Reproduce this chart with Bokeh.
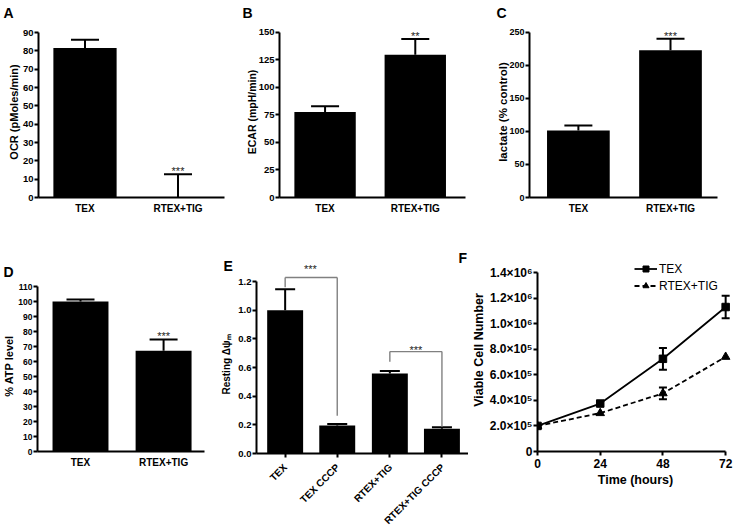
import math
from bokeh.plotting import figure
from bokeh.models import (Range1d, FixedTicker, Label, Whisker, TeeHead,
                          ColumnDataSource, Legend, LegendItem)
from bokeh.layouts import row, column
from bokeh.embed import file_html
from bokeh.resources import INLINE

FONT = "Liberation Sans"

# ---------------- data ----------------
A_groups = ["TEX", "RTEX+TIG"]
A_pos = [0.5, 1.5]
A_values = [81.6, 0.0]
A_errors = [4.4, 12.7]
A_yticks = [0, 10, 20, 30, 40, 50, 60, 70, 80, 90]
A_sig = "***"

B_groups = ["TEX", "RTEX+TIG"]
B_pos = [0.49, 1.46]
B_values = [77.7, 129.8]
B_errors = [5.2, 14.2]
B_yticks = [0, 25, 50, 75, 100, 125, 150]
B_sig = "**"

C_groups = ["TEX", "RTEX+TIG"]
C_pos = [0.52, 1.5]
C_values = [101.4, 222.9]
C_errors = [7.5, 17.5]
C_yticks = [0, 50, 100, 150, 200, 250]
C_sig = "***"

D_groups = ["TEX", "RTEX+TIG"]
D_pos = [0.515, 1.51]
D_values = [100.0, 67.1]
D_errors = [1.3, 7.6]
D_yticks = [0, 10, 20, 30, 40, 50, 60, 70, 80, 90, 100, 110]
D_sig = "***"

E_groups = ["TEX", "TEX CCCP", "RTEX+TIG", "RTEX+TIG CCCP"]
E_pos = [0.55, 1.55, 2.56, 3.56]
E_values = [1.00, 0.196, 0.559, 0.173]
E_errors = [0.146, 0.009, 0.017, 0.011]
E_yticks = [0, 0.2, 0.4, 0.6, 0.8, 1.0, 1.2]
E_ytick_labels = ["0.0", "0.2", "0.4", "0.6", "0.8", "1.0", "1.2"]
E_bracket_left = [0, 2]
E_bracket_right = [1, 3]
E_bracket_y = [1.228, 0.711]
E_bracket_left_end = [1.16, 0.64]
E_bracket_right_end = [0.263, 0.187]
E_sig = ["***", "***"]

F_time = [0, 24, 48, 72]
F_tex = [2.0e5, 3.75e5, 7.25e5, 1.13e6]
F_tex_err = [0, 0, 8.5e4, 8.8e4]
F_rtex = [2.0e5, 3.0e5, 4.55e5, 7.4e5]
F_rtex_err = [0, 0, 4.6e4, 0]
F_xticks = [0, 24, 48, 72]
F_yticks = [0, 200000, 400000, 600000, 800000, 1000000, 1200000, 1400000]
F_ytick_labels = ["0", "2.0×10⁵", "4.0×10⁵", "6.0×10⁵", "8.0×10⁵",
                  "1.0×10⁶", "1.2×10⁶", "1.4×10⁶"]
F_series = ["TEX", "RTEX+TIG"]

panel_letters = ["A", "B", "C", "D", "E", "F"]


# ---------------- helpers ----------------
def style_axis(ax):
    ax.axis_line_width = 2
    ax.axis_line_color = "black"
    ax.major_tick_line_width = 2
    ax.major_tick_line_color = "black"
    ax.major_tick_out = 4
    ax.major_tick_in = 0
    ax.minor_tick_line_color = None
    ax.major_label_text_font = FONT
    ax.major_label_text_font_style = "bold"
    ax.major_label_text_color = "black"
    ax.axis_label_text_font = FONT
    ax.axis_label_text_font_style = "bold"
    ax.axis_label_text_color = "black"


def base_fig(W, H, fl, fr, ft, fb, x0, x1, y0, y1):
    p = figure(width=W, height=H, x_range=Range1d(x0, x1), y_range=Range1d(y0, y1),
               output_backend="svg", toolbar_location=None, title=None,
               min_border_left=fl, min_border_right=W - fr,
               min_border_top=ft, min_border_bottom=H - fb)
    p.outline_line_color = None
    p.xgrid.visible = False
    p.ygrid.visible = False
    p.border_fill_color = "white"
    p.background_fill_color = "white"
    style_axis(p.xaxis[0])
    style_axis(p.yaxis[0])
    p.yaxis[0].major_label_standoff = 1
    return p


def strip(W, H, x0=None, x1=None):
    p = figure(width=W, height=H,
               x_range=Range1d(0 if x0 is None else x0, W if x1 is None else x1),
               y_range=Range1d(0, H), x_axis_location=None, y_axis_location=None,
               output_backend="svg", toolbar_location=None, title=None,
               min_border=0, min_border_left=0, min_border_right=0,
               min_border_top=0, min_border_bottom=0)
    p.outline_line_color = None
    p.grid.visible = False
    p.border_fill_color = "white"
    p.background_fill_color = "white"
    return p


def letter(p, txt, x, y):
    # y is the vertical centre of the capital letter, from the strip's bottom
    p.add_layout(Label(x=x, y=y, x_units="screen", y_units="screen", text=txt,
                       text_align="left", text_baseline="middle",
                       text_font=FONT, text_font_size="14px", text_font_style="bold",
                       text_color="black"))


def sig_label(p, x, y, txt, yoff=3, y_units="data"):
    p.add_layout(Label(x=x, y=y, y_offset=yoff, y_units=y_units, text=txt,
                       text_align="center", text_baseline="middle", text_font=FONT,
                       text_font_size="11px", text_color="#222222"))


def bar_panel(W, H, fl, fr, fb, axis_top_px, xmax, ymax, pos, values, errors, groups,
              yticks, ylabel, ylabel_size, ylabel_standoff, tick_size, bw,
              cap=28, ytick_labels=None, show_cats=True):
    ytop = ymax * fb / (fb - axis_top_px)
    p = base_fig(W, H, fl, fr, 0, fb, 0, xmax, 0, ytop)
    ya = p.yaxis[0]
    ya.bounds = (0, ymax)
    ya.ticker = FixedTicker(ticks=yticks)
    ya.major_label_text_font_size = f"{tick_size}px"
    if ytick_labels is not None:
        ya.major_label_overrides = {t: s for t, s in zip(yticks, ytick_labels)}
    ya.axis_label = ylabel
    ya.axis_label_text_font_size = f"{ylabel_size}px"
    ya.axis_label_standoff = ylabel_standoff
    xa = p.xaxis[0]
    xa.ticker = FixedTicker(ticks=pos)
    if show_cats:
        xa.major_label_overrides = {x: g for x, g in zip(pos, groups)}
        xa.major_tick_out = 0
        xa.major_tick_line_color = None
        xa.major_label_standoff = 5
        xa.major_label_text_font_size = "10px"
    else:
        xa.major_label_overrides = {x: "" for x in pos}
        xa.major_label_text_font_size = "0px"
        xa.major_label_standoff = 0
    src = ColumnDataSource(dict(x=pos, top=values,
                                up=[v + e for v, e in zip(values, errors)]))
    p.vbar(x="x", top="top", bottom=0, width=bw, source=src,
           fill_color="black", line_color=None)
    p.add_layout(Whisker(base="x", lower="top", upper="up", source=src,
                         dimension="height", line_width=2, line_color="black",
                         upper_head=TeeHead(size=cap, line_width=2, line_color="black"),
                         lower_head=None))
    return p


# ---------------- top strip with panel letters A, B, C ----------------
sTop = strip(733, 26)
letter(sTop, panel_letters[0], 3, 14)
letter(sTop, panel_letters[1], 242, 14)
letter(sTop, panel_letters[2], 496, 14)

H1 = 222
# ---------------- A ----------------
pA = bar_panel(240, H1, 38, 224, 171, 6, 2, 90, A_pos, A_values, A_errors, A_groups,
               A_yticks, "OCR (pMoles/min)", 11, 0, 9.5, 0.68)
sig_label(pA, A_pos[1], A_values[1] + A_errors[1], A_sig)

# ---------------- B ----------------
pB = bar_panel(240, H1, 39, 225, 172, 6, 2, 150, B_pos, B_values, B_errors, B_groups,
               B_yticks, "ECAR (mpH/min)", 10.5, -2, 9.5, 0.66)
sig_label(pB, B_pos[1], B_values[1] + B_errors[1], B_sig)

# ---------------- C ----------------
pC = bar_panel(253, H1, 49, 237, 172, 6, 2, 250, C_pos, C_values, C_errors, C_groups,
               C_yticks, "lactate (% control)", 11.5, -3, 9, 0.667)
sig_label(pC, C_pos[1], C_values[1] + C_errors[1], C_sig)

H2 = 278
# ---------------- D ----------------
sD = strip(218, 32)
letter(sD, panel_letters[3], 3, 9)
pD = bar_panel(218, H2 - 32, 37, 204, 171, 6, 2, 110, D_pos, D_values, D_errors, D_groups,
               D_yticks, "% ATP level", 11, 0, 8.5, 0.67)
sig_label(pD, D_pos[1], D_values[1] + D_errors[1], D_sig)

# ---------------- E ----------------
E_W, E_fl, E_fr, E_xmax = 250, 37, 250, 4.07
E_ppu = (E_fr - E_fl) / E_xmax
E_x0 = -E_fl / E_ppu
sE = strip(E_W, 27, E_x0, E_xmax)
letter(sE, panel_letters[4], 5, 9.5)
letter(sE, panel_letters[5], 240, 17.5)
pE = bar_panel(E_W, 184, E_fl, E_fr, 178, 6, E_xmax, 1.2, E_pos, E_values, E_errors,
               E_groups, E_yticks, "Resting Δψₘ", 10, 3, 9.5, 0.69, cap=20,
               ytick_labels=E_ytick_labels, show_cats=False)
bx0, by0, bx1, by1 = [], [], [], []
for li, ri, yb, yl, yr in zip(E_bracket_left, E_bracket_right, E_bracket_y,
                              E_bracket_left_end, E_bracket_right_end):
    xl, xr = E_pos[li], E_pos[ri]
    bx0 += [xl, xl, xr]
    by0 += [yl, yb, yb]
    bx1 += [xl, xr, xr]
    by1 += [yb, yb, yr]
pE.segment(bx0, by0, bx1, by1, line_color="#808080", line_width=1.4)
# first bracket's stars sit above the plot frame -> drawn in the strip above (same x scale)
sig_label(sE, (E_pos[E_bracket_left[0]] + E_pos[E_bracket_right[0]]) / 2, 6.3,
          E_sig[0], yoff=0, y_units="screen")
sig_label(pE, (E_pos[E_bracket_left[1]] + E_pos[E_bracket_right[1]]) / 2,
          E_bracket_y[1], E_sig[1], yoff=2)
# rotated category labels in a strip below, sharing E's x scale
E_lab_h = H2 - 27 - 184
sE2 = strip(E_W, E_lab_h, E_x0, E_xmax)
for x, g in zip(E_pos, E_groups):
    sE2.add_layout(Label(x=x, y=E_lab_h - 6, x_units="data", y_units="screen",
                         x_offset=1, text=g, angle=math.pi / 4, text_align="right",
                         text_baseline="middle", text_font=FONT, text_font_size="10px",
                         text_font_style="bold", text_color="black"))

# ---------------- F ----------------
F_W, F_fl, F_fb, F_axis_top = 265, 65, 203, 24
ppx = 192 / 72.0
fx1 = (F_W - F_fl) / ppx
fy1 = 1.4e6 * F_fb / (F_fb - F_axis_top)
pF = base_fig(F_W, H2, F_fl, F_W, 0, F_fb, 0, fx1, 0, fy1)
ya = pF.yaxis[0]
ya.bounds = (0, 1.4e6)
ya.ticker = FixedTicker(ticks=F_yticks)
ya.major_label_overrides = {t: s for t, s in zip(F_yticks, F_ytick_labels)}
ya.major_label_text_font_size = "12px"
ya.axis_label = "Viable Cell Number"
ya.axis_label_text_font_size = "12.5px"
ya.axis_label_standoff = 1
xa = pF.xaxis[0]
xa.bounds = (0, 72)
xa.ticker = FixedTicker(ticks=F_xticks)
xa.major_label_text_font_size = "12px"
xa.major_label_standoff = 3
xa.axis_label = "Time (hours)"
xa.axis_label_text_font_size = "12.5px"
xa.axis_label_standoff = 2

l1 = pF.line(F_time, F_tex, line_color="black", line_width=1.8)
l2 = pF.line(F_time, F_rtex, line_color="black", line_width=1.8, line_dash="5 3")
for vals, errs in ((F_tex, F_tex_err), (F_rtex, F_rtex_err)):
    xs = [t for t, e in zip(F_time, errs) if e > 0]
    lo = [v - e for v, e in zip(vals, errs) if e > 0]
    hi = [v + e for v, e in zip(vals, errs) if e > 0]
    s = ColumnDataSource(dict(x=xs, lo=lo, hi=hi))
    pF.add_layout(Whisker(base="x", lower="lo", upper="hi", source=s, dimension="height",
                          line_width=2, line_color="black",
                          upper_head=TeeHead(size=8, line_width=2, line_color="black"),
                          lower_head=TeeHead(size=8, line_width=2, line_color="black")))
s1 = pF.scatter(F_time, F_tex, marker="square", size=7.5, color="black")
s2 = pF.scatter(F_time, F_rtex, marker="triangle", size=8.5, color="black")

leg = Legend(items=[LegendItem(label=F_series[0], renderers=[l1, s1]),
                    LegendItem(label=F_series[1], renderers=[l2, s2])],
             location=(97, 158), glyph_width=23, glyph_height=15, label_height=15,
             label_standoff=2, spacing=2, padding=0, margin=0,
             border_line_color=None, background_fill_alpha=0,
             label_text_font=FONT, label_text_font_size="12px", label_text_color="black")
pF.add_layout(leg)

# strips are wrapped in rows so that their frames are not aligned with the plots below
layout = column(sTop,
                row(pA, pB, pC),
                row(column(row(sD), pD),
                    column(row(sE), pE, row(sE2)),
                    pF))
open("out.html", "w").write(file_html(layout, INLINE))
